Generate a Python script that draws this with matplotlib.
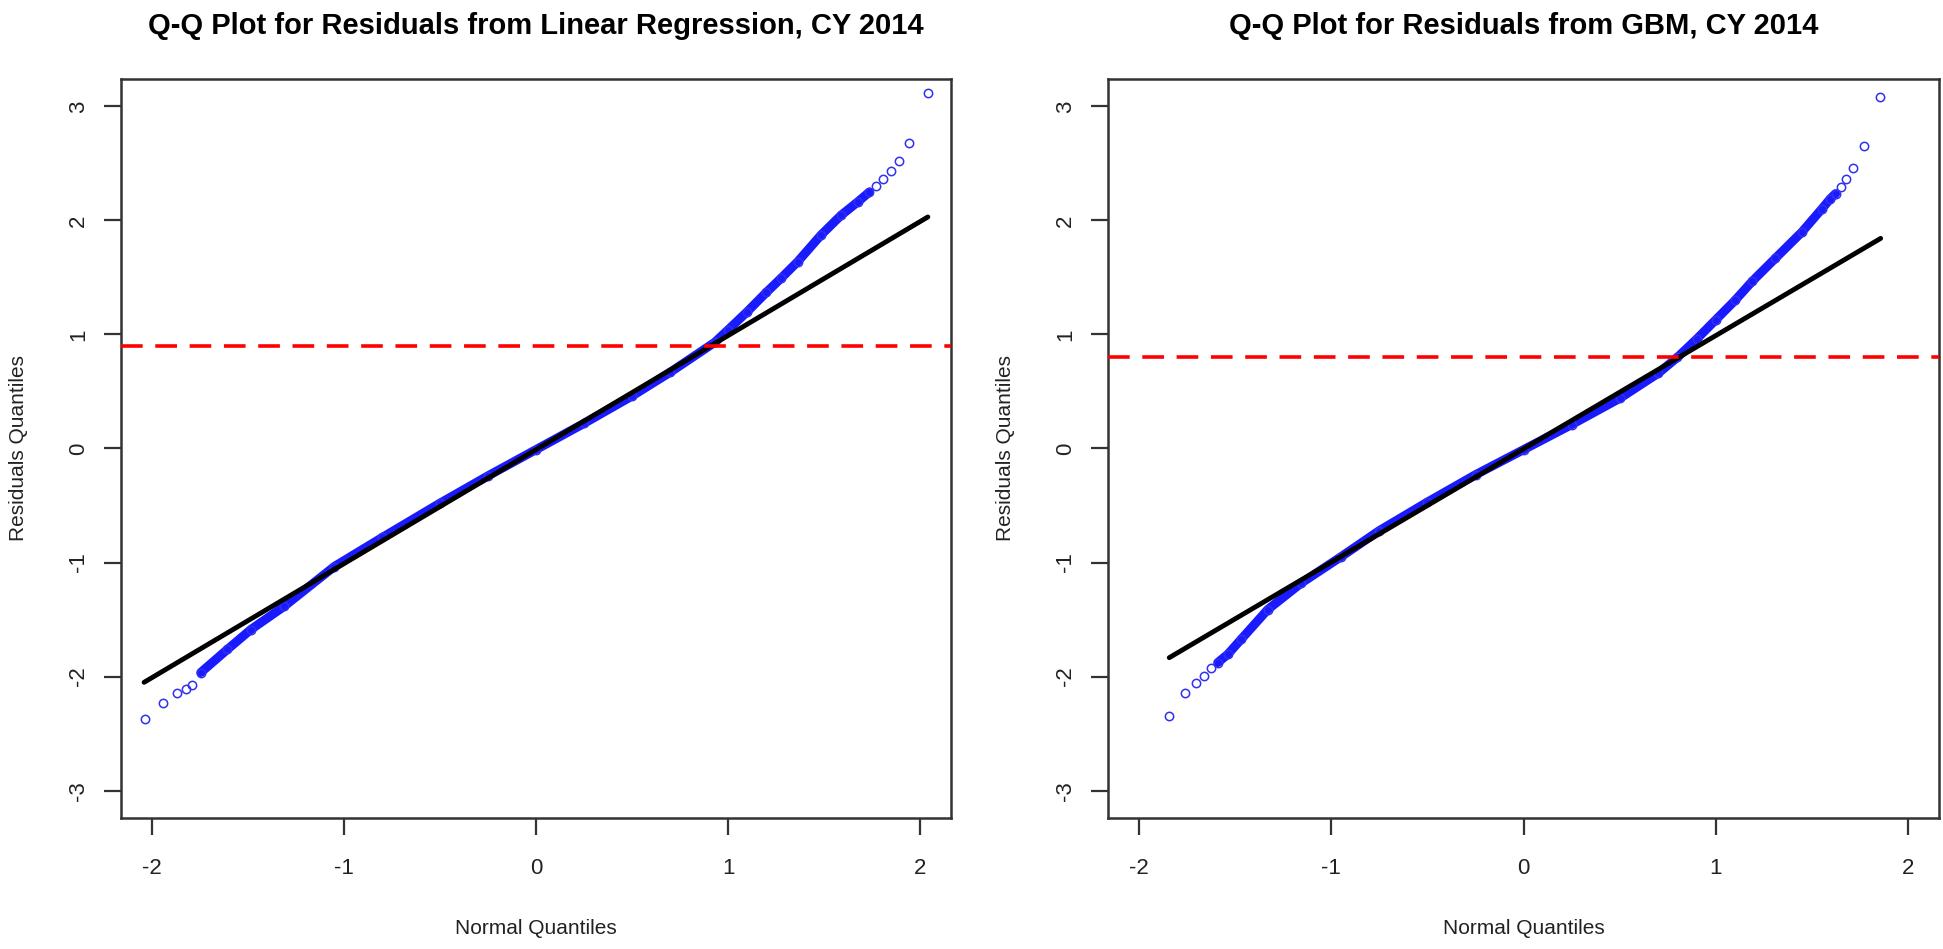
import matplotlib.pyplot as plt

plt.rcParams['font.family'] = ['Liberation Sans', 'DejaVu Sans']
plt.rcParams['axes.unicode_minus'] = False

# Q-Q points (theoretical quantile, residual quantile)
lr_x = [-2.035, -1.944, -1.87, -1.823, -1.793, -1.745, -1.606, -1.484, -1.311, -1.05,
        -0.8, -0.5, -0.25, 0.0, 0.25, 0.5, 0.7, 0.93, 1.0, 1.1, 1.2, 1.276, 1.363,
        1.484, 1.589, 1.675, 1.736, 1.771, 1.806, 1.849, 1.892, 1.941, 2.043]
lr_y = [-2.371, -2.232, -2.147, -2.11, -2.075, -1.964, -1.761, -1.587, -1.384, -1.035,
        -0.78, -0.48, -0.24, -0.01, 0.22, 0.46, 0.67, 0.93, 1.04, 1.2, 1.37, 1.493, 1.639,
        1.872, 2.046, 2.162, 2.249, 2.302, 2.36, 2.43, 2.517, 2.677, 3.115]

gbm_x = [-1.842, -1.759, -1.703, -1.66, -1.625, -1.59, -1.538, -1.469, -1.33, -1.156,
         -0.948, -0.75, -0.5, -0.25, 0.0, 0.25, 0.5, 0.7, 0.8, 0.9, 1.0, 1.1, 1.188,
         1.309, 1.448, 1.552, 1.595, 1.622, 1.648, 1.674, 1.714, 1.769, 1.851]
gbm_y = [-2.343, -2.145, -2.052, -1.994, -1.921, -1.877, -1.805, -1.674, -1.412, -1.18,
         -0.948, -0.72, -0.47, -0.23, -0.01, 0.21, 0.44, 0.66, 0.8, 0.96, 1.13, 1.3, 1.465,
         1.668, 1.9, 2.104, 2.191, 2.235, 2.293, 2.366, 2.459, 2.65, 3.078]

# reference (normal) line ends
lr_line_x = [-2.04, 2.04]
lr_line_y = [-2.05, 2.03]
gbm_line_x = [-1.842, 1.856]
gbm_line_y = [-1.834, 1.842]

# where the points pile up into a solid band (index range)
lr_band = (5, 27)
gbm_band = (5, 28)

cutoffs = [0.9, 0.8]
titles = ["Q-Q Plot for Residuals from Linear Regression, CY 2014",
          "Q-Q Plot for Residuals from GBM, CY 2014"]
ticks = [-3, -2, -1, 0, 1, 2, 3]
xticks = [-2, -1, 0, 1, 2]

fig = plt.figure(figsize=(19.43, 9.49), dpi=100)
ax1 = fig.add_axes([0.0623, 0.138, 0.4271, 0.7788])
ax2 = fig.add_axes([0.5703, 0.138, 0.4277, 0.7788])

panels = [(ax1, lr_x, lr_y, lr_line_x, lr_line_y, lr_band),
          (ax2, gbm_x, gbm_y, gbm_line_x, gbm_line_y, gbm_band)]

for i, (ax, qx, qy, lx, ly, band) in enumerate(panels):
    a, b = band
    ax.plot(qx[a:b], qy[a:b], color='#1a1aff', lw=6.5, solid_capstyle='round', zorder=2)
    ax.plot(qx, qy, 'o', mfc='none', mec='#3030ee', ms=6, mew=1.1, zorder=3)
    ax.plot(lx, ly, color='black', lw=3.5, solid_capstyle='round', zorder=4)
    ax.axhline(cutoffs[i], color='red', lw=2.6, dashes=(6, 3.5), zorder=5)

    ax.set_xlim(-2.16, 2.16)
    ax.set_ylim(-3.24, 3.24)
    ax.set_xticks(xticks)
    ax.set_yticks(ticks)
    ax.set_yticklabels([str(t) for t in ticks], rotation=90, va='center')
    ax.tick_params(length=12, width=1.6, color='#333333', labelcolor='#222222',
                   labelsize=16)
    ax.tick_params(axis='x', pad=17)
    ax.tick_params(axis='y', pad=11)
    for s in ax.spines.values():
        s.set_linewidth(1.8)
        s.set_color('#333333')

    ax.set_title(titles[i], fontsize=21, fontweight='bold', y=1.06, va='center')
    ax.set_xlabel("Normal Quantiles", fontsize=15, color='#222222', va='center')
    ax.xaxis.set_label_coords(0.5, -0.149)
    ax.set_ylabel("Residuals Quantiles", fontsize=15, color='#222222', va='center')
    ax.yaxis.set_label_coords(-0.124, 0.5)

fig.savefig('out.png', dpi=100)
